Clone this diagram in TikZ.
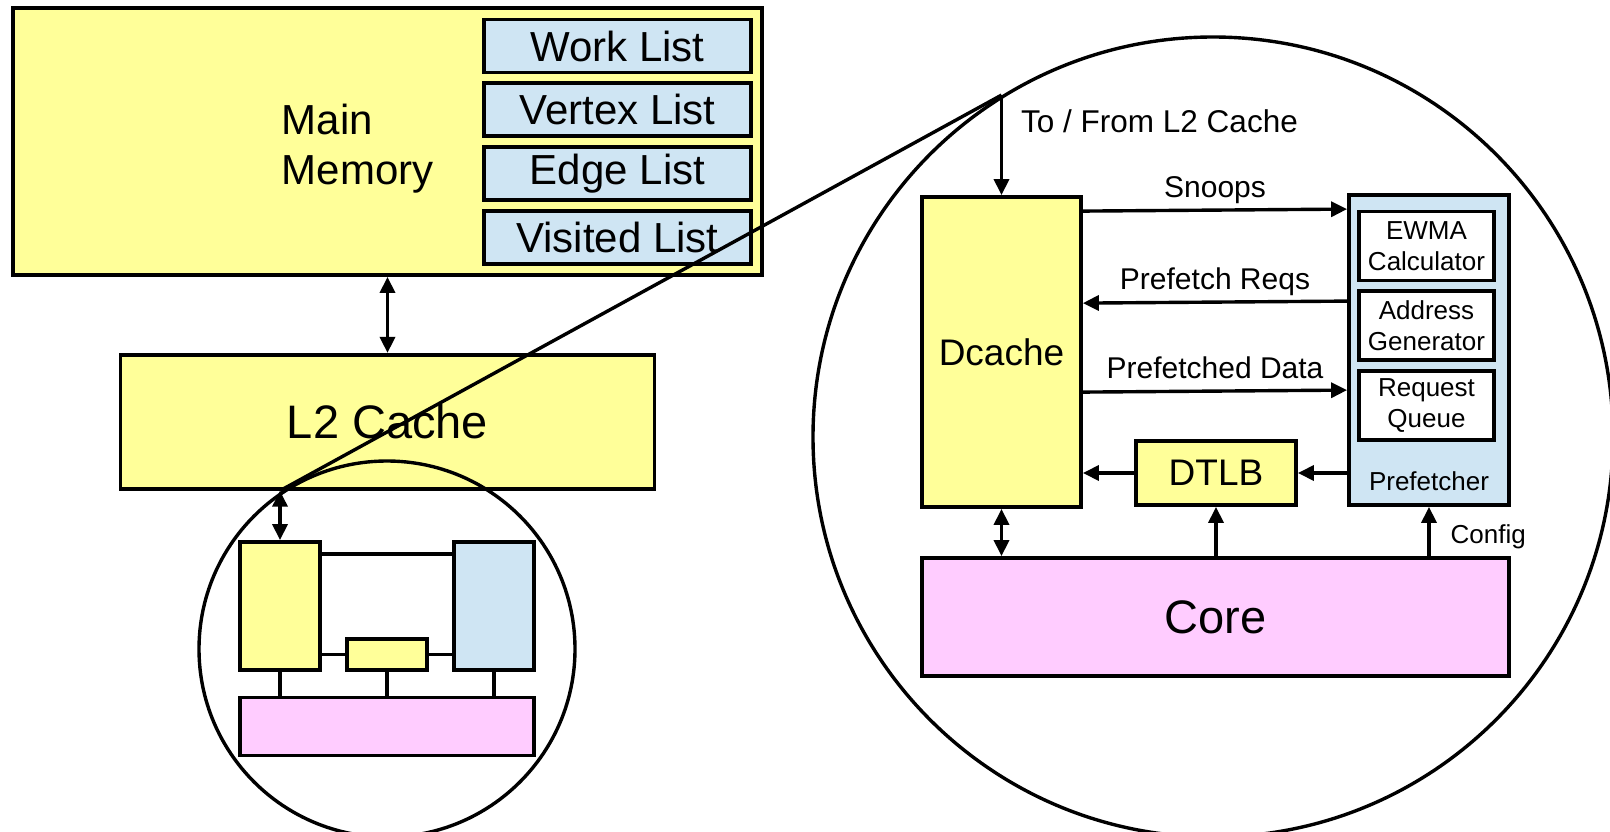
\documentclass[tikz,border=0pt]{standalone}
\usepackage{fontspec}
\setmainfont{Liberation Sans}
\usetikzlibrary{arrows.meta,positioning,calc}
\definecolor{memyellow}{HTML}{FFFF99}
\definecolor{listblue}{HTML}{CFE5F3}
\definecolor{corepink}{HTML}{FFCCFF}
\newcommand{\pxfont}[2]{\fontsize{#1pt}{#2pt}\selectfont}

\begin{document}
\begin{tikzpicture}[x=1pt, y=-1pt, line width=3.4pt, >={Triangle[length=16pt,width=15pt]}]
\tikzstyle{box}=[draw, line width=3.8pt, inner sep=0pt, align=center]
\tikzstyle{lst}=[box, fill=listblue, minimum width=267pt, minimum height=53pt, font=\pxfont{42}{50}]
\tikzstyle{unit}=[box, fill=white, minimum width=135pt, minimum height=69pt, font=\pxfont{26}{31}]
\tikzstyle{lbl}=[inner sep=0pt, text height=0.75em, text depth=0.25em, font=\pxfont{30}{36}]
\useasboundingbox (0,0) rectangle (1610,832);
\node[box, fill=memyellow, minimum width=749pt, minimum height=267pt] (mem) at (387.5,141.5) {};
\node[anchor=west, align=left, inner sep=0pt, font=\pxfont{42}{50}] (memtxt) at (280,149) {Main\\Memory};
\node[lst] (work) at (617.5,46) {Work List};
\node[lst, below=7pt of work] (vertex) {Vertex List};
\node[lst, below=7pt of vertex] (edgel) {Edge List};
\node[lst, below=7pt of edgel] (visited) {Visited List};
\node[box, fill=memyellow, minimum width=534pt, minimum height=134pt, below=76pt of mem, font=\pxfont{47}{56}] (ltwo) {L2 Cache};
\draw[<->] (mem) -- (ltwo);
\node[box, fill=memyellow, minimum width=80pt, minimum height=128pt] (sdc) at (280,606) {};
\node[box, fill=listblue, minimum width=80pt, minimum height=128pt] (spf) at (494,606) {};
\node[box, fill=memyellow, minimum width=80pt, minimum height=31pt] (stlb) at (387,654.5) {};
\node[box, fill=corepink, minimum width=294pt, minimum height=58pt] (score) at (387,726.5) {};
\draw ([yshift=-14pt]sdc.north east) -- ([yshift=-14pt]spf.north west);
\draw (stlb.west -| sdc.east) -- (stlb.west);
\draw (stlb.east) -- (stlb.east -| spf.west);
\draw (sdc.south) -- (sdc.south |- score.north);
\draw (stlb.south) -- (stlb.south |- score.north);
\draw (spf.south) -- (spf.south |- score.north);
\draw[<->] (ltwo.south -| sdc.north) coordinate (tapL2) -- (sdc.north);
\node[circle, draw, inner sep=0pt, minimum size=376pt] (zoomL) at (387,649) {};
\node[circle, draw, inner sep=0pt, minimum size=800pt] (zoomR) at (1213,437) {};
\node[box, fill=memyellow, minimum width=159pt, minimum height=310pt, font=\pxfont{37}{44}] (dcache) at (1001.5,352) {Dcache};
\node[box, fill=listblue, minimum width=160pt, minimum height=310pt] (pref) at (1429,350) {};
\node[unit] (ewma) at (1426.5,246) {EWMA\\Calculator};
\node[unit, below=7pt of ewma] (addrgen) {Address\\Generator};
\node[unit, below=7pt of addrgen] (reqq) {Request\\Queue};
\node[lbl, font=\pxfont{26}{31}, above=12pt of pref.south] (preftxt) {Prefetcher};
\node[box, fill=memyellow, minimum width=160pt, minimum height=64pt, font=\pxfont{37}{44}] (dtlb) at (1216,473) {DTLB};
\node[box, fill=corepink, minimum width=587pt, minimum height=118pt, font=\pxfont{47}{56}] (core) at (1215.5,617) {Core};
\draw[->] ($(dcache.north)+(0,-100)$) coordinate (tapDc) -- (dcache.north) node[lbl, pos=0.35, right=18pt, font=\pxfont{31.5}{36}] {To / From L2 Cache};
\draw[->] ([yshift=-16pt]dcache.north east) -- ([yshift=-16pt]pref.north west) node[lbl, midway, above=8pt] {Snoops};
\draw[->] ([yshift=-108pt]pref.north west) -- ([yshift=-108pt]dcache.north east) node[lbl, midway, above=8pt] {Prefetch Reqs};
\draw[->] ([yshift=-197pt]dcache.north east) -- ([yshift=-197pt]pref.north west) node[lbl, midway, above=8pt] {Prefetched Data};
\draw[->] (dtlb) -- (dtlb -| dcache.east);
\draw[->] (dtlb -| pref.west) -- (dtlb);
\draw[<->] (dcache.south) -- (dcache.south |- core.north);
\draw[->] (dtlb.south |- core.north) -- (dtlb.south);
\draw[->] (pref.south |- core.north) -- (pref.south) node[lbl, pos=0.31, right=20pt, font=\pxfont{26}{31}] {Config};
\draw (tapL2) -- (tapDc);
\end{tikzpicture}
\end{document}
